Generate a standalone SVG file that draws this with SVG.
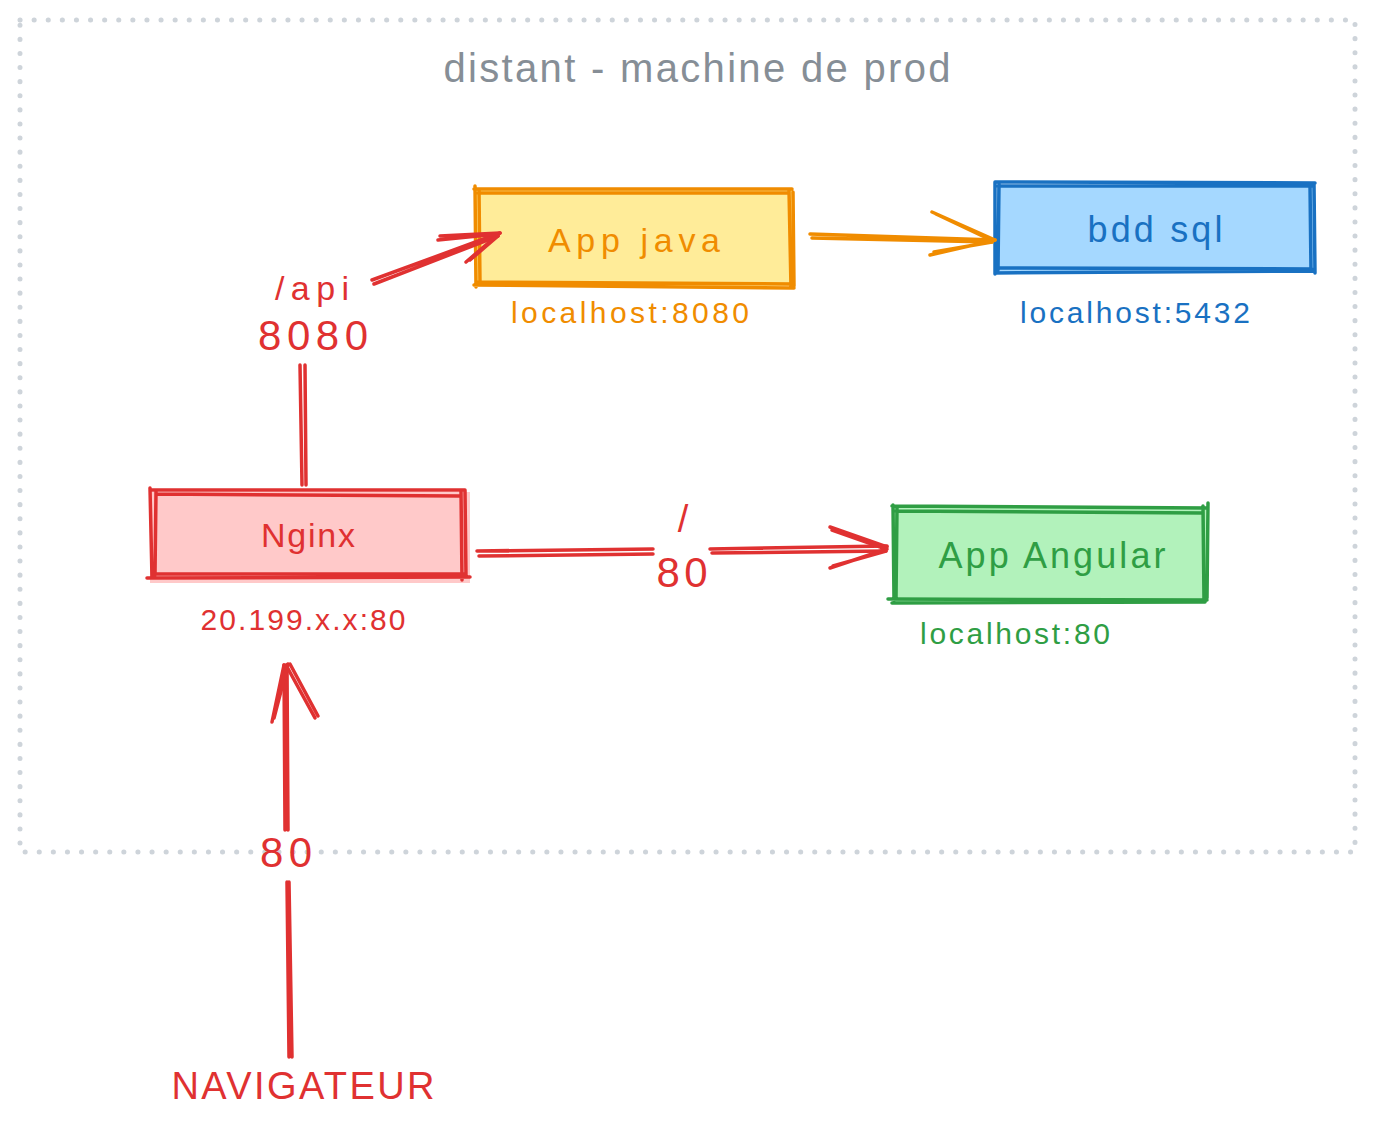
<svg xmlns="http://www.w3.org/2000/svg" width="1374" height="1131" viewBox="0 0 1374 1131">
<style>
.t{font-family:"Liberation Sans","DejaVu Sans",sans-serif;text-anchor:middle}
.s{fill:none;stroke-width:3.5;stroke-linecap:round;stroke-linejoin:round}
.red{stroke:#e03131}.org{stroke:#f08c00}.blu{stroke:#1971c2}.grn{stroke:#2f9e44}
.tred{fill:#e03131}.torg{fill:#f08c00}.tblu{fill:#1971c2}.tgrn{fill:#2f9e44}
</style>
<rect width="1374" height="1131" fill="#ffffff"/>
<g id="frame">
<rect x="20" y="20" width="1335" height="832" fill="none" stroke="#ced4da" stroke-width="5" stroke-dasharray="0.1 14" stroke-linecap="round"/>
<text class="t" x="697" y="82" font-size="40" fill="#868e96" textLength="507">distant - machine de prod</text>
</g>
<g id="app-java">
<rect x="476" y="190" width="316" height="96" fill="#ffec99"/>
<path class="s org" d="M474,189 L792,189 M478,193 L788,193 M474,285 L794,288 M476,282 L792,284 M475,186 L476,287 M479,190 L480,284 M789,190 L791,288 M793,192 L794,286"/>
<text class="t torg" x="634" y="252" font-size="34" textLength="172">App java</text>
<text class="t torg" x="630" y="323" font-size="30" textLength="238">localhost:8080</text>
</g>
<g id="bdd-sql">
<rect x="997" y="185" width="318" height="88" fill="#a5d8ff"/>
<path class="s blu" d="M995,182 L1315,183 M998,186 L1312,186 M995,273 L1315,271 M998,268 L1312,269 M995,182 L995,274 M999,184 L998,270 M1310,185 L1311,271 M1314,184 L1315,273"/>
<text class="t tblu" x="1155" y="242" font-size="36" textLength="135">bdd sql</text>
<text class="t tblu" x="1135" y="323" font-size="30" textLength="230">localhost:5432</text>
</g>
<g id="nginx">
<rect x="150" y="492" width="320" height="91" fill="#ffc9c9"/>
<path class="s red" d="M150,490 L465,490 M156,494 L460,496 M147,578 L470,577 M152,574 L465,574 M150,488 L152,578 M156,492 L155,575 M461,491 L462,580 M465,490 L466,577"/>
<text class="t tred" x="308" y="547" font-size="34" textLength="94">Nginx</text>
<text class="t tred" x="303" y="630" font-size="30" textLength="205">20.199.x.x:80</text>
</g>
<g id="app-angular">
<rect x="894" y="508" width="312" height="94" fill="#b2f2bb"/>
<path class="s grn" d="M892,506 L1207,508 M896,511 L1203,513 M888,599 L1207,600 M892,603 L1205,602 M893,505 L894,600 M897,508 L896,598 M1203,506 L1204,600 M1208,503 L1207,598"/>
<text class="t tgrn" x="1052" y="568" font-size="36" textLength="227">App Angular</text>
<text class="t tgrn" x="1015" y="644" font-size="30" textLength="190">localhost:80</text>
</g>
<g id="connectors">
<path class="s red" d="M302,485 L300,365 M306,485 L305,365"/>
<path class="s red" d="M372,280 L500,233 M374,284 L498,236" stroke-width="4.5"/>
<path class="s red" d="M440,236 L500,233 M438,240 L498,234 M466,262 L500,233 M470,260 L498,236" stroke-width="4"/>
<path class="s red" d="M477,551 L653,549 M479,556 L653,554 M710,549 L887,546 M712,553 L886,551"/>
<path class="s red" d="M830,527 L887,547 M832,530 L886,549 M830,568 L887,549 M833,566 L886,551" stroke-width="4"/>
<path class="s red" d="M289,1057 L287,882 M292,1057 L289,882 M285,830 L284,665 M288,830 L287,665"/>
<path class="s red" d="M284,665 L272,722 M288,664 L274,718 M286,665 L315,718 M290,664 L318,716"/>
<path class="s org" d="M810,234 L995,240 M812,238 L992,242"/>
<path class="s org" d="M932,212 L995,240 M936,214 L993,241 M930,255 L995,240 M934,252 L992,242"/>
</g>
<g id="labels">
<text class="t tred" x="312" y="300" font-size="34" textLength="74">/api</text>
<text class="t tred" x="313" y="350" font-size="42" textLength="110">8080</text>
<text class="t tred" x="683" y="532" font-size="38">/</text>
<text class="t tred" x="682" y="587" font-size="42" textLength="51">80</text>
<text class="t tred" x="286" y="867" font-size="42" textLength="52">80</text>
<text class="t tred" x="303" y="1099" font-size="38" textLength="263">NAVIGATEUR</text>
</g>
</svg>
